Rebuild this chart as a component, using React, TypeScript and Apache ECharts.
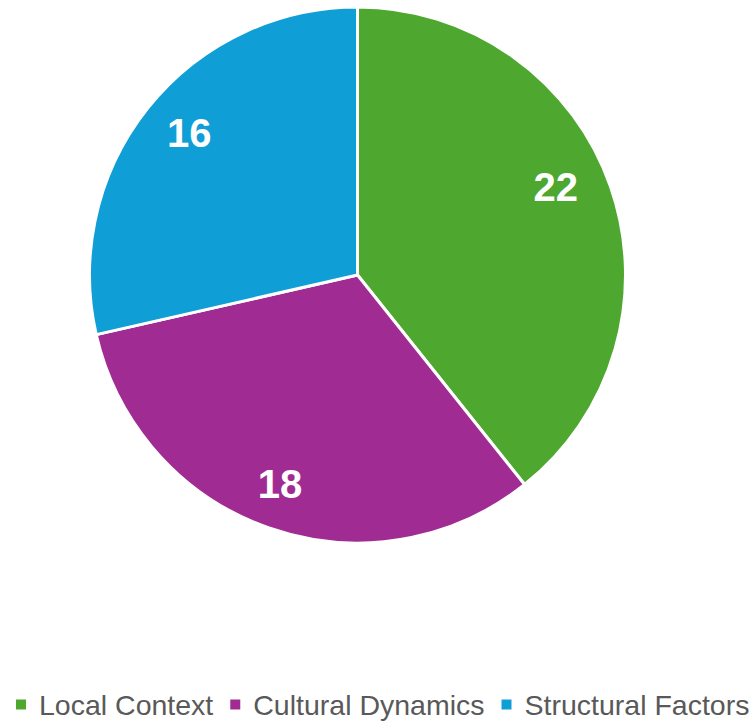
import React, { useEffect, useRef } from "react";
import * as echarts from "echarts";

const categories = ["Local Context", "Cultural Dynamics", "Structural Factors"];
const values = [22, 18, 16];
const colors = ["#4EA72E", "#A02B93", "#0F9ED5"];
const labelOffsets = [
  [-12, -14],
  [-4, -1],
  [6, -3],
];

export default function App() {
  const ref = useRef<HTMLDivElement>(null);
  useEffect(() => {
    document.body.style.margin = "0";
    const chart = echarts.init(ref.current!, null, { renderer: "svg" });
    const cx = 357.5;
    const cy = 275;
    const r = 268;
    const data = categories.map((name, i) => ({
      name,
      value: values[i],
      itemStyle: { color: colors[i] },
    }));
    chart.setOption({
      animation: false,
      backgroundColor: "#ffffff",
      legend: {
        data: categories,
        left: 14,
        top: 690,
        width: 800,
        padding: 0,
        icon: "rect",
        itemWidth: 12,
        itemHeight: 12,
        itemGap: 15,
        textStyle: {
          fontFamily: "Liberation Sans, Arial, sans-serif",
          fontSize: 28.5,
          color: "#595959",
          padding: [0, 0, 0, 7],
        },
      },
      series: [
        {
          type: "pie",
          center: [cx, cy],
          radius: r,
          startAngle: 90,
          clockwise: true,
          silent: true,
          label: { show: false },
          labelLine: { show: false },
          itemStyle: { borderColor: "#ffffff", borderWidth: 3 },
          data,
        },
        {
          type: "pie",
          center: [cx, cy],
          radius: [r * 0.64, r],
          startAngle: 90,
          clockwise: true,
          silent: true,
          legendHoverLink: false,
          labelLine: { show: false },
          itemStyle: { color: "transparent", borderWidth: 0 },
          data: categories.map((name, i) => ({
            name,
            value: values[i],
            itemStyle: { color: "transparent" },
            label: {
              show: true,
              position: "inside",
              formatter: String(values[i]),
              color: "#ffffff",
              fontSize: 40,
              fontWeight: "bold",
              fontFamily: "Liberation Sans, Arial, sans-serif",
              offset: labelOffsets[i],
            },
          })),
        },
      ],
    });
    return () => chart.dispose();
  }, []);
  return <div ref={ref} style={{ width: 753, height: 721 }} />;
}
